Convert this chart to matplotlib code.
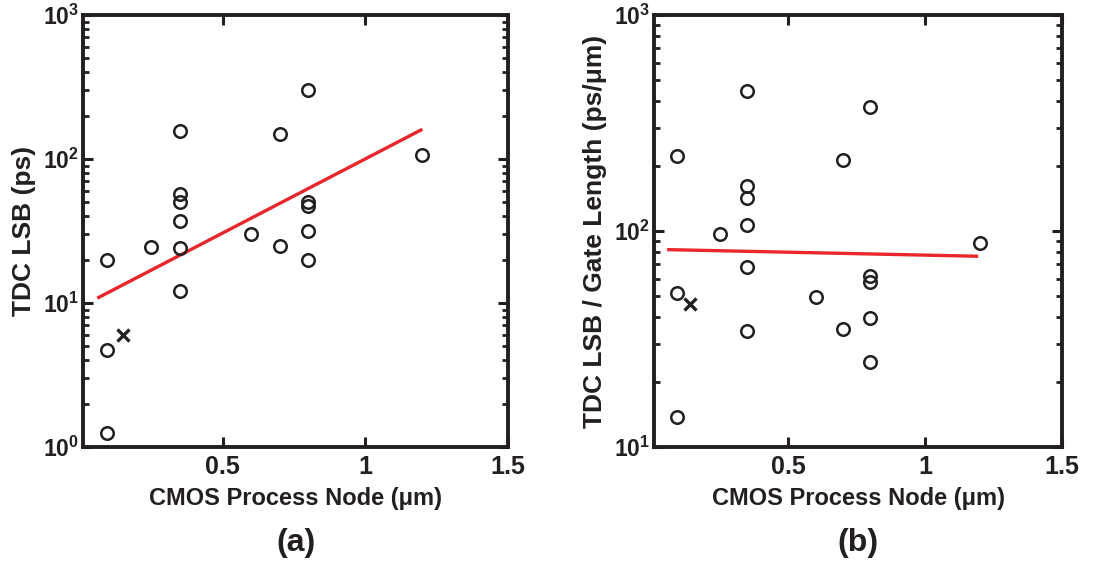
"""
TDC LSB vs CMOS process node, two log-y panels:
    (a) raw LSB in ps
    (b) LSB normalised by gate length in ps/um
Red lines are exponential fits, drawn from their end points.
"""

import numpy as np
import matplotlib
matplotlib.use('Agg')
import matplotlib.pyplot as plt
from matplotlib.ticker import LogLocator, LogFormatterSciNotation, FixedLocator, FixedFormatter

plt.rcParams['font.family'] = ['Liberation Sans', 'DejaVu Sans']
plt.rcParams['font.weight'] = 'bold'
plt.rcParams['mathtext.fontset'] = 'custom'
plt.rcParams['mathtext.rm'] = 'Liberation Sans:bold'
plt.rcParams['mathtext.it'] = 'Liberation Sans:bold'
plt.rcParams['mathtext.bf'] = 'Liberation Sans:bold'

ink = '#231f20'
red = '#e8262b'

# panel (a): TDC LSB (ps)
node_a = [0.095, 0.095, 0.095, 0.25, 0.35, 0.35, 0.35, 0.35, 0.35, 0.35,
          0.6, 0.7, 0.7, 0.8, 0.8, 0.8, 0.8, 0.8, 1.2]
lsb_a = [1.25, 4.7, 20, 24.4, 156, 57, 50, 37.4, 24, 12.2,
         30, 150, 25, 300, 50.3, 46.8, 31.8, 20, 106]
cross_a_x = [0.15]
cross_a_y = [6.0]
fit_a_x = [0.06, 1.2]
fit_a_y = [10.8, 161]

# panel (b): TDC LSB / gate length (ps/um)
node_b = [0.095, 0.095, 0.095, 0.25, 0.35, 0.35, 0.35, 0.35, 0.35, 0.35,
          0.6, 0.7, 0.7, 0.8, 0.8, 0.8, 0.8, 0.8, 1.2]
lsb_b = [13.7, 51.6, 222, 96.5, 445, 161.5, 142.6, 106.6, 68.1, 34.4,
         49.6, 214, 35.1, 376, 61.6, 58, 39.5, 24.7, 88.4]
cross_b_x = [0.143]
cross_b_y = [45.7]
fit_b_x = [0.058, 1.194]
fit_b_y = [82, 76.4]

x_ticks = [0.5, 1, 1.5]
x_ticklabels = ['0.5', '1', '1.5']
xlabel = 'CMOS Process Node (\u03bcm)'
ylabels = ['TDC LSB (ps)', 'TDC LSB / Gate Length (ps/\u03bcm)']
panel_tags = ['(a)', '(b)']
ylims = [(1, 1000), (10, 1000)]

fig = plt.figure(figsize=(11.03, 5.63), dpi=100)
W, H = 1103., 563.
ax1 = fig.add_axes([83 / W, 1 - 447 / H, 425 / W, 432 / H])
ax2 = fig.add_axes([654 / W, 1 - 447 / H, 408 / W, 432 / H])

panels = [
    (ax1, node_a, lsb_a, cross_a_x, cross_a_y, fit_a_x, fit_a_y),
    (ax2, node_b, lsb_b, cross_b_x, cross_b_y, fit_b_x, fit_b_y),
]

for i, (ax, nx, ny, cx, cy, fx, fy) in enumerate(panels):
    ax.set_yscale('log')
    ax.plot(fx, fy, color=red, lw=2.4, solid_capstyle='butt', zorder=2)
    ax.plot(nx, ny, 'o', ms=9, mfc='none', mec=ink, mew=1.8, zorder=3)
    ax.plot(cx, cy, 'x', ms=9, mec=ink, mew=2.4, zorder=3)

    ax.set_xlim(0.01, 1.5)
    ax.set_ylim(*ylims[i])

    ax.xaxis.set_major_locator(FixedLocator(x_ticks))
    ax.xaxis.set_major_formatter(FixedFormatter(x_ticklabels))
    ax.yaxis.set_major_locator(LogLocator(base=10, numticks=10))
    ax.yaxis.set_minor_locator(LogLocator(base=10, subs=np.arange(2, 10), numticks=10))
    ax.yaxis.set_major_formatter(LogFormatterSciNotation())

    for s in ax.spines.values():
        s.set_linewidth(2.8)
        s.set_color(ink)
    ax.tick_params(which='both', direction='in', top=True, right=True, color=ink)
    ax.tick_params(which='major', length=7.5, width=2.2, labelcolor=ink)
    ax.tick_params(axis='x', which='major', pad=6, labelsize=18)
    ax.tick_params(axis='y', which='major', pad=3, labelsize=16.5)
    ax.tick_params(which='minor', length=4.5, width=2.0)

    ax.set_xlabel(xlabel, fontsize=17, fontweight='bold', color=ink)
    ax.xaxis.label.set_va('center')
    ax.xaxis.set_label_coords(0.5, -51 / 432.)
    ax.set_ylabel(ylabels[i], fontsize=19, fontweight='bold', color=ink)

    bb = ax.get_position()
    fig.text(bb.x0 + bb.width / 2, 1 - 543 / H, panel_tags[i], ha='center', va='center',
             fontsize=23, fontweight='bold', color=ink)

ax1.yaxis.set_label_coords(-47 / 425., 0.5)
ax2.yaxis.set_label_coords(-47 / 408., 0.5)

fig.savefig('out.png', dpi=100)
